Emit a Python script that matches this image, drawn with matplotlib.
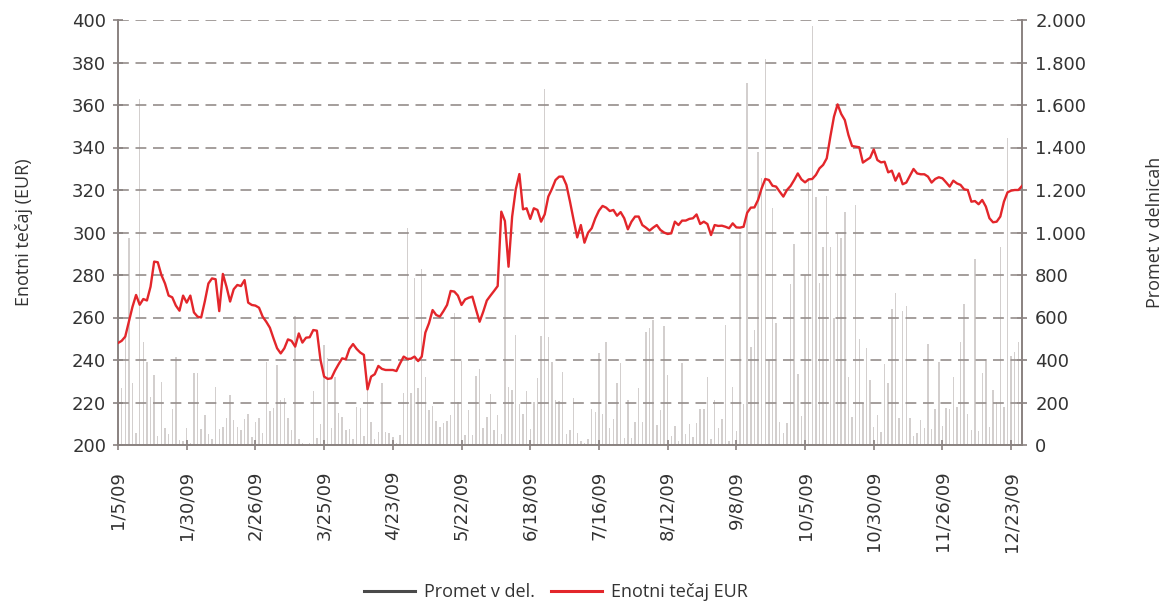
import numpy as np
import matplotlib
matplotlib.use("Agg")
import matplotlib.pyplot as plt
from matplotlib.lines import Line2D

plt.rcParams['font.family'] = ['Open Sans', 'DejaVu Sans']

# trading-day tick labels (every 19th trading day)
tick_labels = ['1/5/09', '1/30/09', '2/26/09', '3/25/09', '4/23/09', '5/22/09',
               '6/18/09', '7/16/09', '8/12/09', '9/8/09', '10/5/09', '10/30/09',
               '11/26/09', '12/23/09']
tick_step = 19

# unit price in EUR, one value per trading day
price = [
    248, 249, 251, 258, 265, 270.6, 266, 268.7, 268, 274.5,
    286.3, 286, 280, 276, 270.3, 269.5, 265.6, 263.2, 270.3, 267,
    270.3, 262.4, 260.4, 260, 267.5, 276, 278.4, 278, 263, 280.5,
    274.5, 267.5, 273.3, 275.3, 274.8, 277.6, 267, 265.9, 265.6, 264.6,
    260.4, 258, 255.2, 250.2, 245.5, 243.1, 245.5, 249.7, 249, 246.3,
    252.5, 248.2, 250.5, 250.7, 254.1, 253.8, 240, 232.2, 231.1, 231.4,
    235, 238, 240.8, 240.3, 245.2, 247.5, 245.2, 243.5, 242.4, 226.2,
    232.2, 233.3, 237.2, 235.8, 235.3, 235.3, 235.3, 234.8, 238.4, 241.6,
    240.5, 240.6, 241.6, 239.5, 241.6, 252.9, 257.3, 263.5, 261.2, 260.4,
    263, 265.9, 272.5, 272.2, 270.3, 265.9, 268.5, 269.3, 269.8, 263.8,
    258, 262.7, 268, 270.3, 272.5, 274.8, 309.8, 305.4, 283.9, 307.5,
    320.3, 327.5, 310.9, 311.4, 306.4, 311.4, 310.6, 305.1, 308.5, 316.9,
    320.5, 324.7, 326.3, 326.3, 322.4, 314.5, 305.9, 297.7, 303.5, 295.2,
    299.9, 302, 306.7, 310.3, 312.5, 311.7, 310.1, 310.6, 307.9, 309.6,
    306.7, 301.5, 305.1, 307.5, 307.5, 303.5, 302.3, 300.9, 302.3, 303.5,
    301.2, 300, 299.3, 299.6, 305.1, 303.5, 305.6, 305.6, 306.4, 306.7,
    308.5, 304, 305.1, 304, 298.8, 303.5, 303.1, 303.2, 302.7, 302,
    304.3, 302.4, 302.3, 302.7, 309.3, 311.7, 311.8, 315.3, 320.8, 325.2,
    324.7, 322, 321.6, 319.2, 316.9, 320, 321.9, 324.7, 327.8, 325,
    323.6, 325, 325.2, 327.1, 330.2, 331.8, 334.9, 345.1, 354.5, 360.3,
    355.8, 352.9, 345.9, 340.7, 340.4, 340.1, 332.9, 334.1, 335.2, 339.1,
    334.1, 333, 333.3, 328.3, 329.1, 324.4, 327.8, 322.7, 323.5, 326.7,
    329.9, 327.8, 327.4, 327.4, 326.3, 323.5, 325.2, 326, 325.5, 323.6,
    321.6, 324.4, 323.1, 322.4, 320.3, 320, 314.5, 314.8, 313.3, 315.3,
    312.2, 306.7, 304.8, 305.1, 307.5, 314.5, 318.9, 319.7, 320, 320,
    321.9,
]

# turnover in shares, one value per trading day
volume = [
    100, 267, 513, 973, 290, 58, 1627, 486, 389, 224,
    330, 42, 298, 78, 50, 168, 413, 24, 20, 78,
    11, 337, 340, 74, 141, 52, 27, 275, 75, 83,
    126, 235, 118, 86, 71, 121, 146, 39, 110, 129,
    55, 392, 162, 173, 376, 212, 220, 126, 71, 607,
    27, 8, 5, 8, 256, 31, 97, 471, 408, 78,
    322, 150, 133, 71, 74, 27, 180, 173, 42, 298,
    110, 27, 63, 290, 63, 58, 39, 11, 47, 243,
    1020, 243, 784, 267, 828, 318, 165, 184, 113, 83,
    102, 113, 141, 620, 204, 397, 47, 165, 47, 325,
    356, 78, 130, 240, 71, 141, 50, 795, 275, 259,
    518, 193, 146, 256, 74, 204, 314, 513, 1674, 507,
    392, 212, 209, 345, 52, 71, 220, 55, 20, 8,
    27, 168, 157, 435, 146, 486, 78, 121, 293, 387,
    31, 212, 31, 110, 267, 107, 530, 549, 588, 94,
    165, 560, 330, 42, 90, 20, 384, 52, 99, 36,
    105, 168, 168, 322, 27, 212, 78, 121, 565, 20,
    275, 67, 996, 193, 1702, 463, 541, 1380, 1255, 1815,
    400, 1114, 576, 110, 55, 105, 758, 946, 334, 137,
    800, 1250, 1972, 1169, 761, 930, 1173, 930, 599, 996,
    973, 1095, 318, 130, 1129, 497, 199, 455, 306, 86,
    141, 63, 381, 290, 638, 717, 126, 631, 656, 126,
    42, 58, 118, 78, 475, 74, 168, 392, 90, 173,
    168, 318, 180, 486, 664, 146, 71, 874, 67, 340,
    403, 86, 259, 204, 930, 177, 1443, 419, 439, 486,
    60,
]

vol_ticks = [0, 200, 400, 600, 800, 1000, 1200, 1400, 1600, 1800, 2000]
vol_tick_labels = ['0', '200', '400', '600', '800', '1.000', '1.200',
                   '1.400', '1.600', '1.800', '2.000']

axis_col = '#8a8280'
grid_col = '#958d8b'
text_col = '#333333'
red = '#e3262b'
tick_font = 'DejaVu Sans'

x = np.arange(len(price))

fig = plt.figure(figsize=(11.68, 6.03), dpi=100)
ax = fig.add_axes([118/1168, 1 - 445/603, (1022-118)/1168, 425/603])
ax2 = ax.twinx()

# volume on the right axis, drawn behind the price line
ax2.bar(x, volume, width=0.4, color='#d3cfce', linewidth=0)
ax2.set_ylim(0, 2000)
ax2.set_yticks(vol_ticks)
ax2.set_yticklabels(vol_tick_labels, family=tick_font)

ax.set_zorder(ax2.get_zorder() + 1)
ax.patch.set_visible(False)

ax.plot(x, price, color=red, lw=1.7, zorder=3)
ax.set_ylim(200, 400)
ax.set_yticks(range(200, 401, 20))
ax.set_yticklabels([str(v) for v in range(200, 401, 20)], family=tick_font)
ax.set_xlim(0, len(price) - 1)
ax.set_xticks(range(0, tick_step * len(tick_labels), tick_step))
ax.set_xticklabels(tick_labels, rotation=90, va='top', ha='center',
                   family=tick_font)

ax.grid(axis='y', color=grid_col, linestyle=(0, (6.5, 4)), lw=1.2)
ax.set_axisbelow(True)

for a in (ax, ax2):
    a.spines['top'].set_visible(False)
    for s in ('left', 'right', 'bottom'):
        a.spines[s].set_color(axis_col)
        a.spines[s].set_linewidth(1.2)
    a.tick_params(colors=axis_col, labelcolor=text_col, labelsize=13,
                  direction='inout', length=7, width=1.2)

ax.tick_params(axis='x', pad=15)
ax.tick_params(axis='y', pad=5)
ax2.tick_params(axis='y', pad=6)

ax.set_ylabel('Enotni tečaj (EUR)', fontsize=13, color=text_col)
ax.yaxis.set_label_coords(-0.094, 0.5)
ax2.set_ylabel('Promet v delnicah', fontsize=13, color=text_col, rotation=90)
ax2.yaxis.set_label_coords(1.137, 0.5)

handles = [Line2D([], [], color='#4a4a4a', lw=2.2),
           Line2D([], [], color=red, lw=2.2)]
fig.legend(handles, ['Promet v del.', 'Enotni tečaj EUR'], loc='center',
           bbox_to_anchor=(556/1168, 1 - 592/603), ncol=2, frameon=False,
           fontsize=13, handlelength=2.8, handletextpad=0.5,
           columnspacing=0.9, labelcolor=text_col)

fig.savefig('out.png', dpi=100)
